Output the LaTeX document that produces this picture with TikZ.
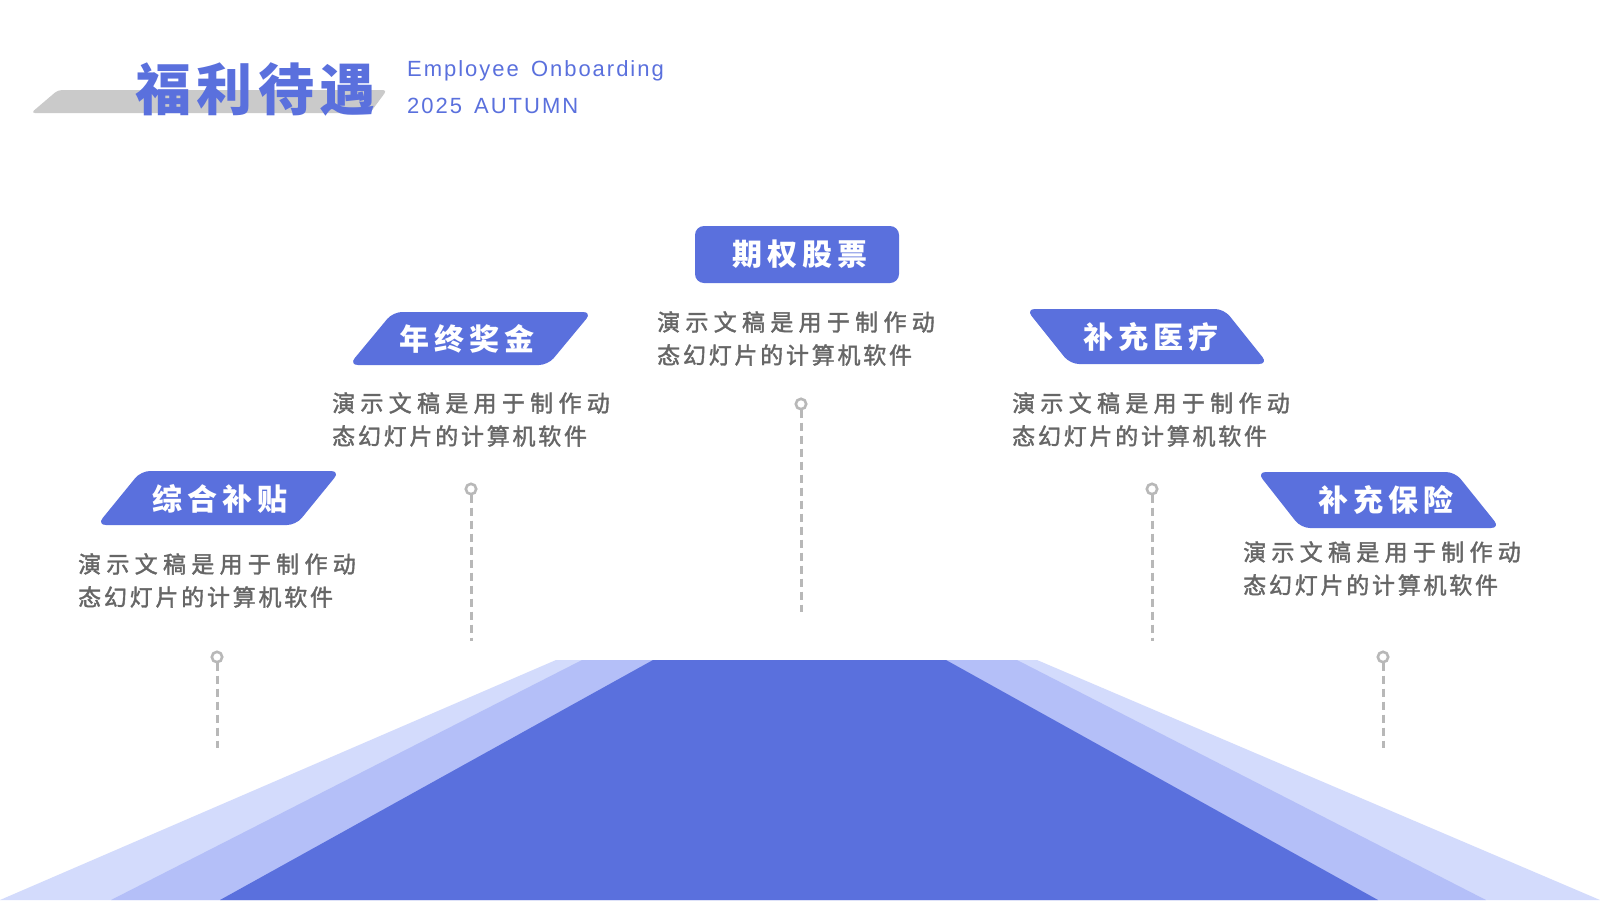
\documentclass[tikz,border=0pt]{standalone}
\usepackage{fontspec}
\setmainfont{Liberation Sans}
\newfontfamily\engfont[LetterSpace=9,WordSpace=1.5]{Liberation Sans}
\newfontfamily\titlefont[LetterSpace=10]{Noto Sans CJK SC}
\newfontfamily\labelfont[LetterSpace=17]{Noto Sans CJK SC}
\newfontfamily\descfontA[LetterSpace=23,FakeBold=1.6]{Noto Sans CJK SC}
\newfontfamily\descfontB[LetterSpace=12,FakeBold=1.6]{Noto Sans CJK SC}
\definecolor{mainblue}{HTML}{5A70DD}
\definecolor{midblue}{HTML}{B4BFF8}
\definecolor{lightblue}{HTML}{D3DBFC}
\definecolor{pingray}{HTML}{B8B8B8}
\definecolor{desccol}{HTML}{666666}
\definecolor{titlegray}{HTML}{CACACA}
\tikzset{
  lbl/.style={inner sep=0pt, text=white, font=\labelfont\bfseries\fontsize{30}{34}\selectfont},
  lblshape/.style={fill=mainblue, rounded corners=9pt},
  descA/.style={anchor=west, inner sep=0pt, text=desccol, font=\descfontA\fontsize{23}{27}\selectfont},
  descB/.style={anchor=west, inner sep=0pt, text=desccol, font=\descfontB\fontsize{23}{27}\selectfont},
  eng/.style={anchor=west, inner sep=0pt, text=mainblue, font=\engfont\fontsize{22}{22}\selectfont},
  pinring/.style={draw=pingray, line width=2.6pt},
  pinline/.style={draw=pingray, line width=3pt, dash pattern=on 8pt off 5pt},
}
\begin{document}
\begin{tikzpicture}[x=1pt, y=-1pt]
\useasboundingbox (0,0) rectangle (1600,900);
\fill[white] (0,0) rectangle (1600,900);
% bottom perspective bands
\fill[lightblue] (556,660) -- (1037,660) -- (1600,900) -- (0,900) -- cycle;
\fill[midblue] (582,660) -- (1017,660) -- (1486,900) -- (111,900) -- cycle;
\fill[mainblue] (653,660) -- (946,660) -- (1378,900) -- (220,900) -- cycle;
% title
\fill[titlegray, rounded corners=4pt] (58,90) -- (387,90) -- (370,113) -- (31,113) -- cycle;
\node[anchor=west, inner sep=0pt, text=mainblue, font=\titlefont\bfseries\fontsize{56}{60}\selectfont] (title) at (135,89) {福利待遇};
\node[eng] (eng1) at (407,71) {Employee Onboarding};
\node[eng] (eng2) at (407,106) {2025 AUTUMN};
% label shapes
\fill[lblshape] (695,226) rectangle (899,283);
\node[lbl] (l1) at (800,254) {期权股票};
\fill[lblshape] (393,312) -- (592,312) -- (548,365) -- (349,365) -- cycle;
\node[lbl] (l2) at (467,339) {年终奖金};
\fill[lblshape] (1026,309) -- (1224,309) -- (1268,364) -- (1070,364) -- cycle;
\node[lbl] (l3) at (1151,337) {补充医疗};
\fill[lblshape] (141,471) -- (340,471) -- (296,525) -- (97,525) -- cycle;
\node[lbl] (l4) at (220,499) {综合补贴};
\fill[lblshape] (1257,472) -- (1455,472) -- (1500,528) -- (1301,528) -- cycle;
\node[lbl] (l5) at (1386,500) {补充保险};
% descriptions
\node[descA] (d1a) at (657,322) {演示文稿是用于制作动};
\node[descB] (d1b) at (657,355) {态幻灯片的计算机软件};
\node[descA] (d2a) at (332,403) {演示文稿是用于制作动};
\node[descB] (d2b) at (332,436) {态幻灯片的计算机软件};
\node[descA] (d3a) at (1012,403) {演示文稿是用于制作动};
\node[descB] (d3b) at (1012,436) {态幻灯片的计算机软件};
\node[descA] (d4a) at (78,564) {演示文稿是用于制作动};
\node[descB] (d4b) at (78,597) {态幻灯片的计算机软件};
\node[descA] (d5a) at (1243,552) {演示文稿是用于制作动};
\node[descB] (d5b) at (1243,585) {态幻灯片的计算机软件};
% pins
\foreach \n/\x/\y/\e in {p1/801/404/612, p2/471/489/641, p3/1152/489/641, p4/217/657/748, p5/1383/657/748}{
  \coordinate (\n) at (\x,\y);
  \coordinate (\n s) at (\x,\y+5.5);
  \coordinate (\n e) at (\x,\e);
  \draw[pinring] (\n) circle[radius=5.2];
  \draw[pinline] (\n s) -- (\n e);
}
\end{tikzpicture}
\end{document}
